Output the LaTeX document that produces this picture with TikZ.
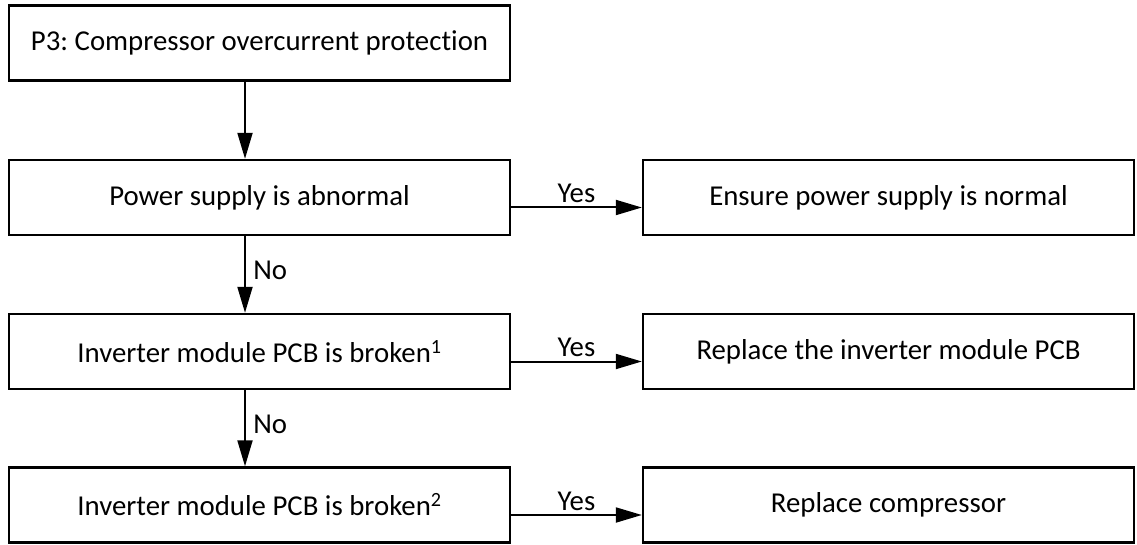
\documentclass[tikz,border=0pt]{standalone}
\usepackage{fontspec}
\setmainfont{Carlito}[Ligatures=NoCommon]
\usepackage{tikz}
\usetikzlibrary{arrows.meta}
\frenchspacing

\begin{document}
\begin{tikzpicture}[x=1pt, y=1pt,
    font=\fontsize{28.8}{34}\selectfont,
    faultbox/.style={draw, line width=2.4pt, minimum width=501pt, minimum height=75pt, inner sep=0pt},
    fixbox/.style={faultbox, minimum width=491pt},
    flowarrow/.style={line width=2pt, -{Triangle[length=26pt, width=15pt]}}]
    \useasboundingbox (0,0) rectangle (1137,544);
    % left column: checks
    \node[faultbox] (title) at (259.5,501) {P3: Compressor overcurrent protection};
    \node[faultbox] (power) at (259.5,346.5) {Power supply is abnormal};
    \node[faultbox] (pcbone) at (259.5,192.5) {Inverter module PCB is broken\textsuperscript{1}};
    \node[faultbox] (pcbtwo) at (259.5,39) {Inverter module PCB is broken\textsuperscript{2}};
    % right column: actions
    \node[fixbox] (ensure) at (888.5,346.5) {Ensure power supply is normal};
    \node[fixbox] (replpcb) at (888.5,192.5) {Replace the inverter module PCB};
    \node[fixbox] (replcomp) at (888.5,39) {Replace compressor};
    % connectors
    \draw[flowarrow] ([xshift=-14.5pt] title.south) -- ([xshift=-14.5pt] power.north);
    \draw[flowarrow] ([xshift=-14.5pt] power.south) -- node[right, xshift=4pt, yshift=4pt] {No} ([xshift=-14.5pt] pcbone.north);
    \draw[flowarrow] ([xshift=-14.5pt] pcbone.south) -- node[right, xshift=4pt, yshift=4pt] {No} ([xshift=-14.5pt] pcbtwo.north);
    \draw[flowarrow] ([yshift=-10pt] power.east) -- node[above] {Yes} ([yshift=-10pt] ensure.west);
    \draw[flowarrow] ([yshift=-10pt] pcbone.east) -- node[above] {Yes} ([yshift=-10pt] replpcb.west);
    \draw[flowarrow] ([yshift=-10pt] pcbtwo.east) -- node[above] {Yes} ([yshift=-10pt] replcomp.west);
\end{tikzpicture}
\end{document}
